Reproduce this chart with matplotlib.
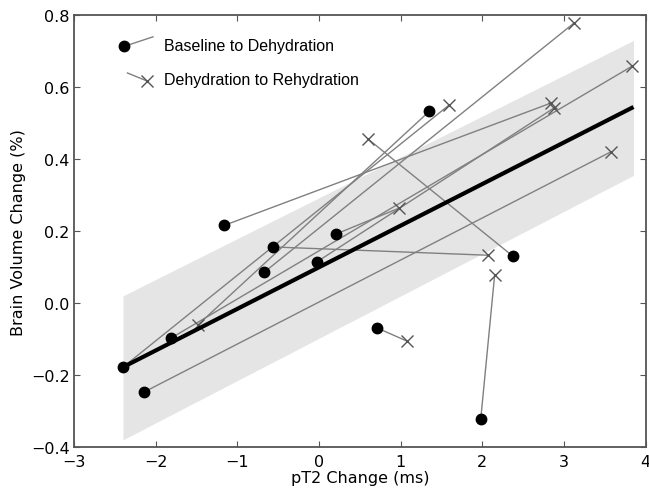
import matplotlib
matplotlib.use("Agg")
import matplotlib.pyplot as plt
from matplotlib.lines import Line2D
from matplotlib.legend_handler import HandlerBase

# Baseline -> Dehydration points (dots) and the Dehydration -> Rehydration points (crosses)
base_x = [-2.40, -2.14, -1.81, -1.16, -0.67, -0.56, -0.03, 0.21, 0.71, 1.35, 2.37, 1.98]
base_y = [-0.178, -0.247, -0.097, 0.216, 0.086, 0.156, 0.114, 0.192, -0.069, 0.533, 0.131, -0.322]
rehyd_x = [1.59, 3.57, 3.83, 2.84, 3.12, 2.07, 2.875, 0.98, 1.08, -1.48, 0.60, 2.15]
rehyd_y = [0.55, 0.42, 0.658, 0.556, 0.778, 0.133, 0.542, 0.264, -0.106, -0.06, 0.456, 0.078]

# regression line and band
fit_x = [-2.40, 3.85]
fit_y = [-0.178, 0.545]
band_upper = [0.02, 0.73]
band_lower = [-0.38, 0.355]

xticks = [-3, -2, -1, 0, 1, 2, 3, 4]
yticks = [-0.4, -0.2, 0.0, 0.2, 0.4, 0.6, 0.8]

LINE_GRAY = "#808080"

fig = plt.figure(figsize=(6.49, 4.89), dpi=100)
ax = fig.add_axes([0.114, 0.0838, 0.881, 0.883])

ax.fill_between(fit_x, band_lower, band_upper, color="#e5e5e5", lw=0, zorder=1)

for bx, by, rx, ry in zip(base_x, base_y, rehyd_x, rehyd_y):
    ax.plot([bx, rx], [by, ry], color=LINE_GRAY, lw=1.0, zorder=2)

ax.plot(rehyd_x, rehyd_y, ls="none", marker="x", ms=9, mew=1.0, color="#555555", zorder=3)
ax.plot(fit_x, fit_y, color="black", lw=3, zorder=4, solid_capstyle="butt")
ax.plot(base_x, base_y, ls="none", marker="o", ms=7.5, color="black", zorder=5)

ax.set_xlim(-3, 4)
ax.set_ylim(-0.4, 0.8)
ax.set_xticks(xticks)
ax.set_yticks(yticks)
ax.set_xticklabels([f"\u2212{abs(t)}" if t < 0 else str(t) for t in xticks])
ax.set_yticklabels([f"\u2212{abs(t):.1f}" if t < 0 else f"{t:.1f}" for t in yticks])
ax.tick_params(direction="in", top=True, right=True, length=4, width=0.8,
               labelsize=11.5, color="#555555")
ax.tick_params(axis="x", pad=5)
ax.tick_params(axis="y", pad=3)
for s in ax.spines.values():
    s.set_color("#555555")
    s.set_linewidth(1.3)

ax.set_xlabel("pT2 Change (ms)", fontsize=11.5, labelpad=1)
ax.set_ylabel("Brain Volume Change (%)", fontsize=11.5, labelpad=4)


class SegHandler(HandlerBase):
    def __init__(self, kind):
        super().__init__()
        self.kind = kind

    def create_artists(self, legend, orig_handle, xdescent, ydescent, width, height, fontsize, trans):
        if self.kind == "dot":
            x0, y0 = -xdescent + 0.05 * width, -ydescent + 0.35 * height
            x1, y1 = -xdescent + 0.95 * width, -ydescent + 1.2 * height
            seg = Line2D([x0, x1], [y0, y1], color=LINE_GRAY, lw=1.0)
            mk = Line2D([x0], [y0], ls="none", marker="o", ms=7.5, color="black")
        else:
            x0, y0 = -xdescent + 0.15 * width, -ydescent + 0.95 * height
            x1, y1 = -xdescent + 0.75 * width, -ydescent + 0.25 * height
            seg = Line2D([x0, x1], [y0, y1], color=LINE_GRAY, lw=1.0)
            mk = Line2D([x1], [y1], ls="none", marker="x", ms=9, mew=1.0, color="#555555")
        seg.set_transform(trans)
        mk.set_transform(trans)
        return [seg, mk]


h1 = Line2D([], [])
h2 = Line2D([], [])
leg = ax.legend([h1, h2], ["Baseline to Dehydration", "Dehydration to Rehydration"],
                handler_map={h1: SegHandler("dot"), h2: SegHandler("x")},
                loc="upper left", bbox_to_anchor=(0.06, 0.98), frameon=False,
                handlelength=2.0, handletextpad=0.6, labelspacing=1.15,
                prop={"family": "Liberation Sans", "size": 11.5})

fig.savefig("out.png", dpi=100)
